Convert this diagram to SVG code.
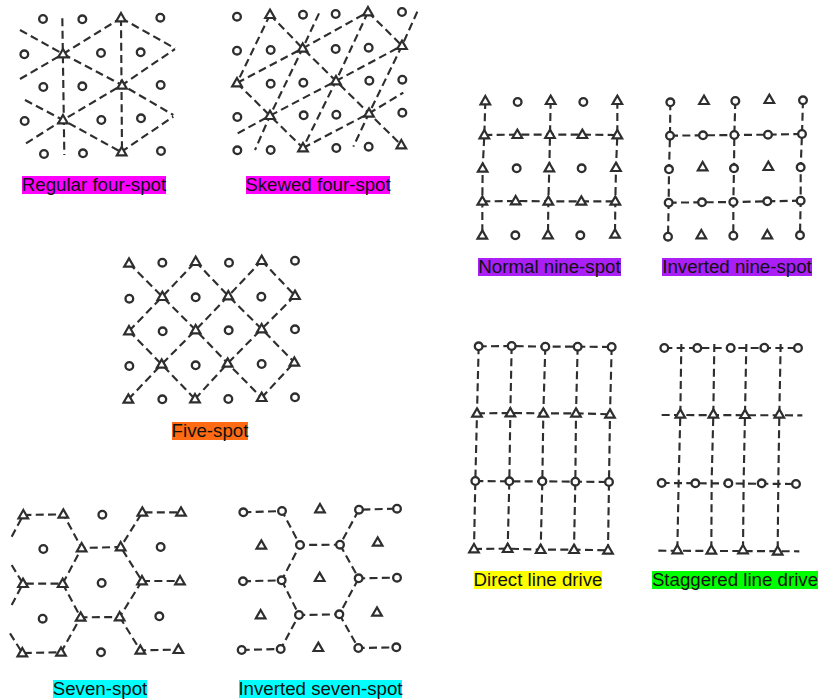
<svg xmlns="http://www.w3.org/2000/svg" xmlns:xlink="http://www.w3.org/1999/xlink" width="818" height="699" viewBox="0 0 818 699">
<style>
.c polyline{fill:none;stroke:#2e2e2e;stroke-width:6.4;stroke-dasharray:24 13}
.w use{stroke:#2e2e2e;stroke-width:7;fill:#fff}
.l{font-family:"Liberation Sans",Arial,sans-serif;font-size:18.7px;fill:#111;text-anchor:middle}
</style>
<defs>
<circle id="o" r="11.5" fill="#fff"/>
<path id="t" d="M0-15L14.500 10H-14.500Z" fill="#fff" stroke-width="6.500"/>
</defs>
<rect width="818" height="699" fill="#fff"/>

<g id="regular-four-spot" transform="scale(.33333)">
<g class="c">
<polyline points="187,55 193,465"/><polyline points="363,54 366,456"/>
<polyline points="60,90 189,162 366,255 520,345"/><polyline points="75,300 189,360 363,456"/><polyline points="363,54 525,145"/>
<polyline points="60,237 189,162 363,54"/><polyline points="78,430 189,360 366,255 525,147"/><polyline points="363,456 520,350"/>
</g>
<g class="w">
<use xlink:href="#o" x="129" y="57"/><use xlink:href="#o" x="247" y="58"/><use xlink:href="#o" x="481" y="53"/>
<use xlink:href="#o" x="73" y="163"/><use xlink:href="#o" x="303" y="159"/><use xlink:href="#o" x="422" y="157"/>
<use xlink:href="#o" x="130" y="261"/><use xlink:href="#o" x="247" y="259"/><use xlink:href="#o" x="482" y="255"/>
<use xlink:href="#o" x="74" y="363"/><use xlink:href="#o" x="304" y="360"/><use xlink:href="#o" x="423" y="355"/>
<use xlink:href="#o" x="132" y="462"/><use xlink:href="#o" x="249" y="460"/><use xlink:href="#o" x="483" y="453"/>
<use xlink:href="#t" x="363" y="54"/><use xlink:href="#t" x="189" y="162"/><use xlink:href="#t" x="366" y="256"/><use xlink:href="#t" x="189" y="360"/><use xlink:href="#t" x="365" y="456"/>
</g>
</g>

<g id="skewed-four-spot" transform="translate(215 0) scale(.33333)">
<g class="c">
<polyline points="165,44 66,249"/><polyline points="165,44 263,145 363,243 462,340 559,435"/><polyline points="459,36 561,137"/><polyline points="66,249 165,347 264,444"/>
<polyline points="66,249 263,145 459,36"/><polyline points="68,400 165,347 363,243 561,137"/><polyline points="264,444 462,340 565,278"/>
<polyline points="312,40 263,145 165,347 120,450"/><polyline points="459,36 363,243 264,444"/><polyline points="607,35 561,137 462,340 415,440"/>
</g>
<g class="w">
<use xlink:href="#o" x="66" y="50"/><use xlink:href="#o" x="264" y="44"/><use xlink:href="#o" x="362" y="42"/><use xlink:href="#o" x="561" y="36"/>
<use xlink:href="#o" x="66" y="152"/><use xlink:href="#o" x="167" y="150"/><use xlink:href="#o" x="362" y="147"/><use xlink:href="#o" x="461" y="143"/>
<use xlink:href="#o" x="167" y="251"/><use xlink:href="#o" x="265" y="248"/><use xlink:href="#o" x="463" y="242"/><use xlink:href="#o" x="562" y="239"/>
<use xlink:href="#o" x="67" y="351"/><use xlink:href="#o" x="266" y="346"/><use xlink:href="#o" x="364" y="344"/><use xlink:href="#o" x="562" y="338"/>
<use xlink:href="#o" x="67" y="451"/><use xlink:href="#o" x="167" y="450"/><use xlink:href="#o" x="364" y="444"/><use xlink:href="#o" x="461" y="440"/>
<use xlink:href="#t" x="165" y="44"/><use xlink:href="#t" x="459" y="36"/><use xlink:href="#t" x="263" y="145"/><use xlink:href="#t" x="561" y="137"/><use xlink:href="#t" x="66" y="249"/><use xlink:href="#t" x="363" y="243"/><use xlink:href="#t" x="165" y="347"/><use xlink:href="#t" x="462" y="340"/><use xlink:href="#t" x="264" y="444"/><use xlink:href="#t" x="559" y="435"/>
</g>
</g>

<g id="five-spot" transform="translate(110 245) scale(.33333)">
<g class="c">
<polyline points="57,55 157,155 257,255 353,355 455,458"/><polyline points="257,50 355,153 455,252 553,352"/><polyline points="455,47 555,152"/><polyline points="57,258 155,358 255,462"/>
<polyline points="57,258 157,155 257,50"/><polyline points="55,463 155,358 257,255 355,153 455,47"/><polyline points="255,462 353,355 455,252 555,152"/><polyline points="455,458 553,352"/>
</g>
<g class="w">
<use xlink:href="#o" x="157" y="53"/><use xlink:href="#o" x="357" y="53"/><use xlink:href="#o" x="555" y="47"/>
<use xlink:href="#o" x="58" y="161"/><use xlink:href="#o" x="257" y="157"/><use xlink:href="#o" x="454" y="155"/>
<use xlink:href="#o" x="158" y="259"/><use xlink:href="#o" x="356" y="256"/><use xlink:href="#o" x="555" y="253"/>
<use xlink:href="#o" x="58" y="363"/><use xlink:href="#o" x="257" y="361"/><use xlink:href="#o" x="455" y="357"/>
<use xlink:href="#o" x="157" y="463"/><use xlink:href="#o" x="355" y="462"/><use xlink:href="#o" x="555" y="457"/>
<use xlink:href="#t" x="57" y="55"/><use xlink:href="#t" x="257" y="50"/><use xlink:href="#t" x="455" y="47"/>
<use xlink:href="#t" x="157" y="155"/><use xlink:href="#t" x="355" y="153"/><use xlink:href="#t" x="555" y="152"/>
<use xlink:href="#t" x="57" y="258"/><use xlink:href="#t" x="257" y="255"/><use xlink:href="#t" x="455" y="252"/>
<use xlink:href="#t" x="155" y="358"/><use xlink:href="#t" x="353" y="355"/><use xlink:href="#t" x="553" y="352"/>
<use xlink:href="#t" x="55" y="463"/><use xlink:href="#t" x="255" y="462"/><use xlink:href="#t" x="455" y="458"/>
</g>
</g>

<g id="seven-spot" transform="translate(0 495) scale(.33333)">
<g class="c">
<polyline points="35,125 70,60 190,58 245,159 362,156 427,52 543,52"/><polyline points="35,210 69,266 188,266 245,159"/><polyline points="35,330 69,266"/>
<polyline points="188,266 242,367 359,366 426,258 362,156"/><polyline points="426,258 540,258"/><polyline points="30,415 67,474 183,472 242,367"/><polyline points="359,366 421,466 535,464"/>
</g>
<g class="w">
<use xlink:href="#o" x="307" y="59"/><use xlink:href="#o" x="130" y="162"/><use xlink:href="#o" x="482" y="156"/><use xlink:href="#o" x="305" y="264"/><use xlink:href="#o" x="128" y="371"/><use xlink:href="#o" x="478" y="364"/><use xlink:href="#o" x="303" y="472"/>
<use xlink:href="#t" x="70" y="60"/><use xlink:href="#t" x="190" y="58"/><use xlink:href="#t" x="427" y="52"/><use xlink:href="#t" x="543" y="52"/>
<use xlink:href="#t" x="245" y="159"/><use xlink:href="#t" x="362" y="156"/>
<use xlink:href="#t" x="69" y="266"/><use xlink:href="#t" x="188" y="266"/><use xlink:href="#t" x="426" y="258"/><use xlink:href="#t" x="540" y="258"/>
<use xlink:href="#t" x="242" y="367"/><use xlink:href="#t" x="359" y="366"/>
<use xlink:href="#t" x="67" y="474"/><use xlink:href="#t" x="183" y="472"/><use xlink:href="#t" x="421" y="466"/><use xlink:href="#t" x="535" y="464"/>
</g>
</g>

<g id="inverted-seven-spot" transform="translate(225 495) scale(.33333)">
<g class="c">
<polyline points="55,52 171,48 225,150 345,149 402,44 516,41"/><polyline points="345,149 401,250 516,248"/><polyline points="54,259 170,256 225,150"/>
<polyline points="170,256 222,360 343,358 401,250"/><polyline points="50,465 167,462 222,360"/><polyline points="343,358 400,459 514,457"/>
</g>
<g class="w">
<use xlink:href="#t" x="285" y="42"/><use xlink:href="#t" x="109" y="151"/><use xlink:href="#t" x="458" y="142"/><use xlink:href="#t" x="284" y="248"/><use xlink:href="#t" x="107" y="360"/><use xlink:href="#t" x="456" y="352"/><use xlink:href="#t" x="280" y="458"/>
<use xlink:href="#o" x="55" y="52"/><use xlink:href="#o" x="171" y="48"/><use xlink:href="#o" x="402" y="44"/><use xlink:href="#o" x="516" y="41"/>
<use xlink:href="#o" x="225" y="150"/><use xlink:href="#o" x="345" y="149"/>
<use xlink:href="#o" x="54" y="259"/><use xlink:href="#o" x="170" y="256"/><use xlink:href="#o" x="401" y="250"/><use xlink:href="#o" x="516" y="248"/>
<use xlink:href="#o" x="222" y="360"/><use xlink:href="#o" x="343" y="358"/>
<use xlink:href="#o" x="50" y="465"/><use xlink:href="#o" x="167" y="462"/><use xlink:href="#o" x="400" y="459"/><use xlink:href="#o" x="514" y="457"/>
</g>
</g>

<g id="normal-nine-spot" transform="translate(465 85) scale(.33333)">
<g class="c">
<polyline points="61,48 58,150 53,250 52,349 52,451"/><polyline points="257,47 255,149 253,249 250,349 249,450"/><polyline points="457,47 457,150 453,248 451,349 450,448"/>
<polyline points="58,150 157,149 255,149 352,149 457,150"/><polyline points="52,349 152,348 250,349 349,349 451,349"/>
</g>
<g class="w">
<use xlink:href="#o" x="158" y="51"/><use xlink:href="#o" x="355" y="51"/><use xlink:href="#o" x="155" y="250"/><use xlink:href="#o" x="350" y="250"/><use xlink:href="#o" x="151" y="451"/><use xlink:href="#o" x="346" y="451"/>
<use xlink:href="#t" x="61" y="48"/><use xlink:href="#t" x="257" y="47"/><use xlink:href="#t" x="457" y="47"/>
<use xlink:href="#t" x="58" y="150"/><use xlink:href="#t" x="157" y="149"/><use xlink:href="#t" x="255" y="149"/><use xlink:href="#t" x="352" y="149"/><use xlink:href="#t" x="457" y="150"/>
<use xlink:href="#t" x="53" y="250"/><use xlink:href="#t" x="253" y="249"/><use xlink:href="#t" x="453" y="248"/>
<use xlink:href="#t" x="52" y="349"/><use xlink:href="#t" x="152" y="348"/><use xlink:href="#t" x="250" y="349"/><use xlink:href="#t" x="349" y="349"/><use xlink:href="#t" x="451" y="349"/>
<use xlink:href="#t" x="52" y="451"/><use xlink:href="#t" x="249" y="450"/><use xlink:href="#t" x="450" y="448"/>
</g>
</g>

<g id="inverted-nine-spot" transform="translate(645 85) scale(.33333)">
<g class="c">
<polyline points="76,52 75,152 72,253 71,353 69,455"/><polyline points="271,48 268,150 267,250 265,351 265,452"/><polyline points="474,46 471,147 467,247 467,347 465,451"/>
<polyline points="75,152 174,151 268,150 369,149 471,147"/><polyline points="71,353 171,352 265,351 367,349 467,347"/>
</g>
<g class="w">
<use xlink:href="#t" x="177" y="47"/><use xlink:href="#t" x="373" y="44"/><use xlink:href="#t" x="173" y="246"/><use xlink:href="#t" x="370" y="245"/><use xlink:href="#t" x="169" y="450"/><use xlink:href="#t" x="367" y="450"/>
<use xlink:href="#o" x="76" y="52"/><use xlink:href="#o" x="271" y="48"/><use xlink:href="#o" x="474" y="46"/>
<use xlink:href="#o" x="75" y="152"/><use xlink:href="#o" x="174" y="151"/><use xlink:href="#o" x="268" y="150"/><use xlink:href="#o" x="369" y="149"/><use xlink:href="#o" x="471" y="147"/>
<use xlink:href="#o" x="72" y="253"/><use xlink:href="#o" x="267" y="250"/><use xlink:href="#o" x="467" y="247"/>
<use xlink:href="#o" x="71" y="353"/><use xlink:href="#o" x="171" y="352"/><use xlink:href="#o" x="265" y="351"/><use xlink:href="#o" x="367" y="349"/><use xlink:href="#o" x="467" y="347"/>
<use xlink:href="#o" x="69" y="455"/><use xlink:href="#o" x="265" y="452"/><use xlink:href="#o" x="465" y="451"/>
</g>
</g>

<g id="direct-line-drive" transform="translate(460 330) scale(.33333)">
<g class="c">
<polyline points="56,49 155,48 256,50 353,50 455,51"/><polyline points="51,250 151,249 250,250 348,250 450,253"/><polyline points="46,453 148,454 247,454 346,455 447,456"/><polyline points="42,657 143,656 242,659 342,659 444,661"/>
<polyline points="56,49 51,250 46,453 42,657"/><polyline points="155,48 151,249 148,454 143,656"/><polyline points="256,50 250,250 247,454 242,659"/><polyline points="353,50 348,250 346,455 342,659"/><polyline points="455,51 450,253 447,456 444,661"/>
</g>
<g class="w">
<use xlink:href="#o" x="56" y="49"/><use xlink:href="#o" x="155" y="48"/><use xlink:href="#o" x="256" y="50"/><use xlink:href="#o" x="353" y="50"/><use xlink:href="#o" x="455" y="51"/>
<use xlink:href="#t" x="51" y="250"/><use xlink:href="#t" x="151" y="249"/><use xlink:href="#t" x="250" y="250"/><use xlink:href="#t" x="348" y="250"/><use xlink:href="#t" x="450" y="253"/>
<use xlink:href="#o" x="46" y="453"/><use xlink:href="#o" x="148" y="454"/><use xlink:href="#o" x="247" y="454"/><use xlink:href="#o" x="346" y="455"/><use xlink:href="#o" x="447" y="456"/>
<use xlink:href="#t" x="42" y="657"/><use xlink:href="#t" x="143" y="656"/><use xlink:href="#t" x="242" y="659"/><use xlink:href="#t" x="342" y="659"/><use xlink:href="#t" x="444" y="661"/>
</g>
</g>

<g id="staggered-line-drive" transform="translate(645 330) scale(.33333)">
<g class="c">
<polyline points="58,54 459,54"/><polyline points="50,255 472,256"/><polyline points="50,459 453,462"/><polyline points="40,662 463,664"/>
<polyline points="109,42 106,253 101,450 97,660"/><polyline points="208,42 205,253 200,450 199,661"/><polyline points="304,42 300,254 296,450 294,660"/><polyline points="407,42 403,253 400,450 398,664"/>
</g>
<g class="w">
<use xlink:href="#o" x="58" y="54"/><use xlink:href="#o" x="157" y="54"/><use xlink:href="#o" x="257" y="54"/><use xlink:href="#o" x="358" y="53"/><use xlink:href="#o" x="459" y="54"/>
<use xlink:href="#t" x="106" y="253"/><use xlink:href="#t" x="205" y="253"/><use xlink:href="#t" x="300" y="254"/><use xlink:href="#t" x="403" y="253"/>
<use xlink:href="#o" x="50" y="459"/><use xlink:href="#o" x="151" y="460"/><use xlink:href="#o" x="250" y="460"/><use xlink:href="#o" x="350" y="460"/><use xlink:href="#o" x="453" y="462"/>
<use xlink:href="#t" x="97" y="660"/><use xlink:href="#t" x="199" y="661"/><use xlink:href="#t" x="294" y="660"/><use xlink:href="#t" x="398" y="664"/>
</g>
</g>

<g id="labels">
<rect x="22" y="176" width="144" height="18" fill="#ff00ff"/><text class="l" x="94" y="191">Regular four-spot</text>
<rect x="246" y="176" width="144" height="18" fill="#ff00ff"/><text class="l" x="318" y="191">Skewed four-spot</text>
<rect x="172" y="422" width="76" height="18" fill="#ff6a13"/><text class="l" x="210" y="437">Five-spot</text>
<rect x="53" y="680" width="94" height="18" fill="#00ffff"/><text class="l" x="100" y="695">Seven-spot</text>
<rect x="239" y="680" width="163" height="18" fill="#00ffff"/><text class="l" x="320.500" y="695">Inverted seven-spot</text>
<rect x="478" y="258" width="143" height="18" fill="#aa1ff5"/><text class="l" x="549.500" y="273">Normal nine-spot</text>
<rect x="662" y="258" width="150" height="18" fill="#aa1ff5"/><text class="l" x="737" y="273">Inverted nine-spot</text>
<rect x="474" y="571" width="128" height="18" fill="#ffff00"/><text class="l" x="538" y="586">Direct line drive</text>
<rect x="652" y="571" width="166" height="18" fill="#00ff00"/><text class="l" x="735" y="586">Staggered line drive</text>
</g>
</svg>
